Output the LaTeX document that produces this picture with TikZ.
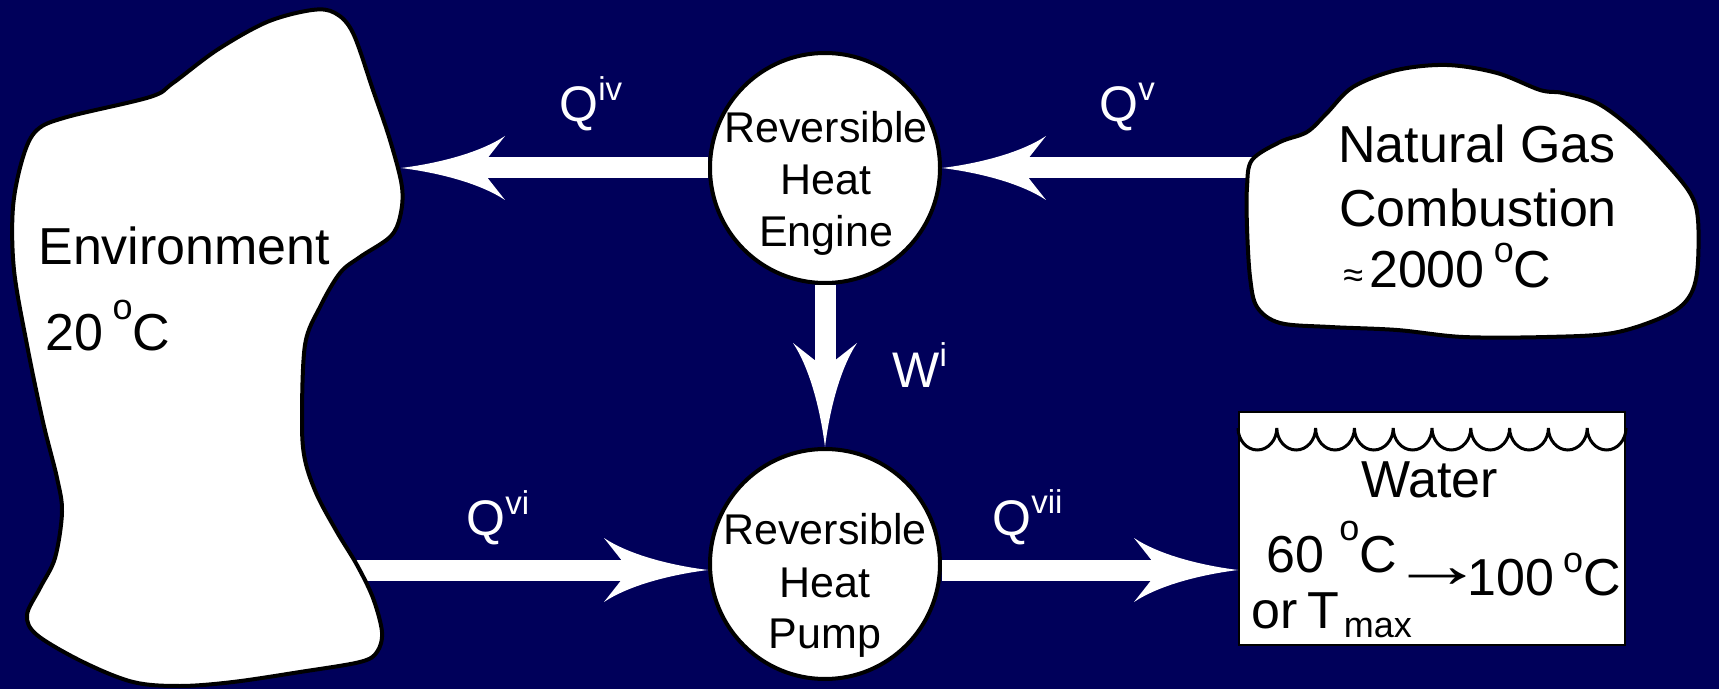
\documentclass[tikz,border=0pt]{standalone}
\usepackage{fontspec}
\setmainfont{Liberation Sans}
\usetikzlibrary{arrows.meta}
\definecolor{navy}{RGB}{0,0,90}
\pgfdeclarearrow{
  name = Fish,
  setup code = {
    \pgfarrowssettipend{0pt}
    \pgfarrowssetlineend{-42pt}
    \pgfarrowssetvisualbackend{-52pt}
    \pgfarrowssetbackend{-52pt}
    \pgfarrowsupperhullpoint{-52pt}{16pt}
    \pgfarrowsupperhullpoint{0pt}{0pt}
  },
  drawing code = {
    \pgfpathmoveto{\pgfpointorigin}
    \pgfpathcurveto{\pgfpoint{-20pt}{2.5pt}}{\pgfpoint{-40pt}{8pt}}{\pgfpoint{-52pt}{16pt}}
    \pgfpathlineto{\pgfpoint{-43.5pt}{5.25pt}}
    \pgfpathlineto{\pgfpoint{-43.5pt}{-5.25pt}}
    \pgfpathlineto{\pgfpoint{-52pt}{-16pt}}
    \pgfpathcurveto{\pgfpoint{-40pt}{-8pt}}{\pgfpoint{-20pt}{-2.5pt}}{\pgfpointorigin}
    \pgfpathclose
    \pgfusepathqfill
  },
}
\newcommand\supx[1]{\raisebox{10.5pt}{\fontsize{16.5}{16.5}\selectfont #1}}
\newcommand\degc[2]{\hspace{#1}\raisebox{#2}{\fontsize{18}{18}\selectfont o}C}
\newcommand\subx[1]{\raisebox{-4.5pt}{\fontsize{18}{18}\selectfont #1}}
\begin{document}
\begin{tikzpicture}[x=0.5pt,y=-0.5pt,
  bigarrow/.style={white, line width=10.5pt, -{Fish}},
  circ/.style={circle, draw=black, fill=white, line width=2pt, minimum size=115pt, inner sep=0pt},
  wbox/.style={rectangle, draw=black, fill=white, line width=1pt, minimum width=193pt, minimum height=116pt, inner sep=0pt},
  blob/.style={draw=black, fill=white, line width=2pt},
  bigtxt/.style={font=\fontsize{26}{31}\selectfont, inner sep=0pt, anchor=base west},
  ctxt/.style={font=\fontsize{21.5}{26}\selectfont, inner sep=0pt, anchor=base},
  arrtxt/.style={font=\fontsize{30}{30}\selectfont, inner sep=0pt},
  lbl/.style={text=white, font=\fontsize{25}{28}\selectfont, inner sep=0pt, anchor=base west}]
\fill[navy] (0,0) rectangle (1719,689);
\useasboundingbox (0,0) rectangle (1719,689);

% circles and water box
\node[circ] (engine) at (825,168) {};
\node[circ] (pump) at (825,564) {};
\node[wbox] (water) at (1432,528.5) {};
\draw[line width=1.5pt] (1238,428)
  \foreach \i in {0,...,9}{
    .. controls ({1238+38.8*\i},440) and ({1238+38.8*\i+8.7},450) .. ({1238+38.8*\i+19.4},450)
    .. controls ({1238+38.8*\i+30.1},450) and ({1238+38.8*\i+38.8},440) .. ({1238+38.8*\i+38.8},428)
  };

% free ends of connectors
\coordinate (envR) at (330,570);
\coordinate (gasL) at (1270,168);
\coordinate (envTip) at (401,168);

% arrows starting under the blobs
\draw[bigarrow] (envR) -- (envR -| pump.west);
\draw[bigarrow] (gasL) -- (engine.east);

% environment blob
\draw[blob] plot[smooth cycle, tension=0.55] coordinates {
  (312,10) (335,13) (353,33) (373,90) (390,140) (402,187) (400,217) (390,237)
  (360,257) (340,273) (320,307) (305,345) (302,422) (305,460) (317,495) (337,532)
  (357,565) (373,598) (382,632) (377,652) (360,662) (300,672) (233,682) (180,686)
  (133,682) (83,662) (37,635) (27,615) (40,588) (55,558) (62,512) (57,478)
  (43,422) (27,345) (14,270) (13,207) (23,157) (37,130) (67,117) (150,97)
  (173,83) (217,50) (267,22)};

% natural gas blob
\draw[blob] plot[smooth cycle, tension=0.55] coordinates {
  (1252,160) (1280,142) (1307,132) (1327,113) (1353,87) (1397,70) (1447,65)
  (1497,73) (1540,90) (1563,93) (1597,103) (1630,127) (1663,160) (1690,193)
  (1698,220) (1697,273) (1687,300) (1663,317) (1613,333) (1547,337) (1463,337)
  (1397,330) (1330,327) (1280,323) (1257,307) (1250,277) (1247,227) (1247,187)};

% other arrows
\draw[bigarrow] (engine.west) -- (envTip);
\draw[bigarrow] (engine.south) -- (pump.north);
\draw[bigarrow] (pump.east |- envR) -- (envR -| water.west);

% texts
\node[bigtxt] (envtxt) at (38,265) {Environment};
\node[bigtxt] (envtemp) at (45.5,351) {20\degc{4.5pt}{15.5pt}};
\node[ctxt] (e1) at (826,143) {Reversible};
\node[ctxt] (e2) at (826,195) {Heat};
\node[ctxt] (e3) at (826,247) {Engine};
\node[ctxt] (p1) at (825,545) {Reversible};
\node[ctxt] (p2) at (825,597) {Heat};
\node[ctxt] (p3) at (825,648) {Pump};
\node[bigtxt] (g1) at (1338,163) {Natural Gas};
\node[bigtxt] (g2) at (1339,227) {Combustion};
\node[bigtxt] (g3) at (1343,288) {{\fontsize{18}{18}\selectfont ≈}\hspace{3pt}2000\degc{4.5pt}{12.5pt}};
\node[bigtxt] (w1) at (1361,498) {Water};
\node[bigtxt] (w2) at (1266,572) {60\degc{7.5pt}{16pt}};
\node[bigtxt] (w3) at (1251,628) {or\hspace{4.75pt}T\hspace{2.5pt}\subx{max}};
\node[arrtxt] (w4) at (1437,578) {\scalebox{1.6}[1.1]{→}};
\node[bigtxt] (w5) at (1467,595) {100\degc{4.5pt}{11.5pt}};

% labels
\node[lbl] (qiv) at (559,122) {Q\supx{iv}};
\node[lbl] (qv) at (1099,122) {Q\supx{v}};
\node[lbl] (wi) at (892,388) {W\supx{i}};
\node[lbl] (qvi) at (466,536) {Q\supx{vi}};
\node[lbl] (qvii) at (992,535) {Q\supx{vii}};
\end{tikzpicture}
\end{document}
